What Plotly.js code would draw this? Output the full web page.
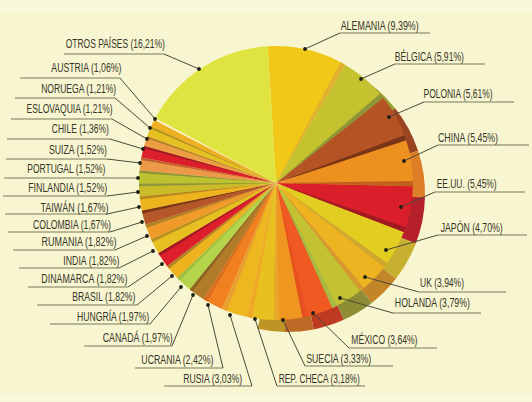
<!DOCTYPE html>
<html><head><meta charset="utf-8">
<script src="https://cdn.plot.ly/plotly-3.0.1.min.js"></script>
<style>html,body{margin:0;padding:0;background:#F8F6D0}</style></head>
<body><div id="chart" style="width:532px;height:402px"></div>
<script>
const countries = ["ALEMANIA","BÉLGICA","POLONIA","CHINA","EE.UU.","JAPÓN","UK","HOLANDA","MÉXICO","SUECIA","REP. CHECA","RUSIA","UCRANIA","CANADÁ","HUNGRÍA","BRASIL","DINAMARCA","INDIA","RUMANIA","COLOMBIA","TAIWÁN","FINLANDIA","PORTUGAL","SUIZA","CHILE","ESLOVAQUIA","NORUEGA","AUSTRIA","OTROS PAÍSES"];
const shares = [9.39,5.91,5.61,5.45,5.45,4.70,3.94,3.79,3.64,3.33,3.18,3.03,2.42,1.97,1.97,1.82,1.82,1.82,1.82,1.67,1.67,1.52,1.52,1.52,1.36,1.21,1.21,1.06,16.21];
const shareLabels = ["9,39","5,91","5,61","5,45","5,45","4,70","3,94","3,79","3,64","3,33","3,18","3,03","2,42","1,97","1,97","1,82","1,82","1,82","1,82","1,67","1,67","1,52","1,52","1,52","1,36","1,21","1,21","1,06","16,21"];
const faceColors = ["#F2C818","#C4C22E","#B45424","#EE9020","#DA1F2B","#E2CE20","#EEB320","#C3C232","#F05A22","#EE961F","#E8C020","#EFB71F","#F08020","#B07C2A","#B4D44A","#EEB21E","#DC1F2B","#E6C020","#F09A2A","#B4582A","#EEB41E","#C9BC28","#BCC22E","#EC9A4A","#DC1F2B","#EE9E42","#E6C020","#EEB020","#E0E440"];
const NONE = "rgba(0,0,0,0)";
const rimColors = [NONE,"#9BA035","#9A4522","#DD7F26","#B5202B","#C7AF30","#C28528","#8E8D35","#BE3A22","#BC6A25","#BE9325",NONE,NONE,NONE,NONE,NONE,NONE,NONE,NONE,NONE,NONE,NONE,NONE,NONE,NONE,NONE,NONE,NONE,NONE];
const stripColors = ["#E0B030","#8E9438","#7A3416","#C0611F","#A01A22","#D0A830","#D89A30","#A8B840","#E85020","#E8A828","#F0A828","#E8A030","#D87020","#8E6422","#A0C040","#B08028","#A01A22","#B89020","#B08028","#7A3416","#B88820","#8E9438","#8E9438","#C06030","#A01A22","#B08028","#B09020","#FBF7D8","#F8F6D0"];

/* layout-only geometry, in page pixels */
const W = 532, H = 402;
const face = {cx: 276, cy: 183, r: 137};
const back = {cx: 287, cy: 194, r: 138};
const startDeg = -3.5;
const textX = [379,429,458,468,466,471,442,432,384,338,319,212,177,137,113,104,84,91,79,72,74,67,66,78,80,69,78,86,115];
const textY = [26,56,94,138,184,227,283,303,339,359,379,379,360,337,316,297,279,261,242,225,207,188,169,150,129,109,89,68,44];
const ruleA = [340,395,424,438,435,438,419,393,349,305,277,164,135,84,50,37,28,19,13,8,5,3,4,6,7,11,15,20,64];
const ruleB = [430,485,514,529,525,527,506,481,437,393,365,252,223,172,150,137,128,119,115,110,107,107,138,107,110,112,115,120,164];
const ruleY = [33,64,102,145,192,235,292,313,348,366,386,386,368,346,324,305,287,268,250,232,214,196,178,159,139,119,98,78,54];
const elbowX = [340,395,424,438,435,438,419,393,349,305,277,252,223,172,150,137,128,119,115,110,107,107,138,107,110,112,115,120,164];
const dotX = [305,361,389,404,401,386,365,340,313,283,255,230,208,193,181,172,162,153,147,142,139,138,138,140,143,147,150,155,199];
const dotY = [49,79,117,161,207,250,277,298,313,320,319,315,305,295,287,276,264,251,236,222,207,192,178,163,149,139,128,119,69];
const textW = [78,69,69,60,60,62,44,75,66,65,81,59,72,70,72,63,86,56,75,78,68,79,78,58,57,86,75,70,99];

const px = x => x / W, py = y => 1 - y / H;
const dom = g => ({x: [px(g.cx - g.r), px(g.cx + g.r)], y: [py(g.cy + g.r), py(g.cy - g.r)]});
const pieTrace = (g, colors) => ({
  type: "pie", values: shares, labels: countries, sort: false, direction: "clockwise",
  rotation: startDeg, domain: dom(g), textinfo: "none", hoverinfo: "none",
  marker: {colors: colors, line: {width: 0}}, showlegend: false
});

const shapes = [], annotations = [];
shapes.push({type: "rect", xref: "paper", yref: "paper", layer: "below", x0: 0, x1: 1, y0: py(11), y1: 1, fillcolor: "#F9F8DA", line: {width: 0}});
shapes.push({type: "rect", xref: "paper", yref: "paper", layer: "below", x0: 0, x1: 1, y0: 0, y1: py(394), fillcolor: "#F9F8DA", line: {width: 0}});
const total = shares.reduce((a, b) => a + b, 0);
let acc = 0;
shares.forEach((v, i) => {
  acc += v;
  const end = startDeg + acc / total * 360;
  const wid = Math.min(2.2, v / total * 360 * 0.2);
  const pt = (deg, r) => {
    const a = deg * Math.PI / 180;
    return px(face.cx + r * Math.sin(a)) + " " + py(face.cy - r * Math.cos(a));
  };
  if (i < shares.length - 1) {
    shapes.push({type: "path", xref: "paper", yref: "paper", layer: "above", line: {width: 0},
      fillcolor: stripColors[i],
      path: "M " + pt(end, 4) + " L " + pt(end - wid, face.r) + " L " + pt(end, face.r) + " Z"});
  }
});
countries.forEach((c, i) => {
  shapes.push({type: "line", xref: "paper", yref: "paper", x0: px(ruleA[i]), x1: px(ruleB[i]), y0: py(ruleY[i]), y1: py(ruleY[i]), line: {color: "#77775A", width: 1.1}});
  shapes.push({type: "line", xref: "paper", yref: "paper", x0: px(elbowX[i]), x1: px(dotX[i]), y0: py(ruleY[i]), y1: py(dotY[i]), line: {color: "#4A4A38", width: 1}});
  const d = 1.9;
  shapes.push({type: "circle", xref: "paper", yref: "paper", x0: px(dotX[i] - d), x1: px(dotX[i] + d), y0: py(dotY[i] + d), y1: py(dotY[i] - d), fillcolor: "#1E1E14", line: {width: 0}});
  annotations.push({xref: "paper", yref: "paper", x: px(textX[i]), y: py(textY[i]), xanchor: "center", yanchor: "middle",
    showarrow: false, text: c + " (" + shareLabels[i] + "%)",
    font: {family: "'Liberation Sans',sans-serif", size: 12, color: "#35352A"}});
});

Plotly.newPlot("chart", [pieTrace(back, rimColors), pieTrace(face, faceColors)], {
  width: W, height: H, margin: {l: 0, r: 0, t: 0, b: 0},
  paper_bgcolor: "#F8F6D0", plot_bgcolor: "#F8F6D0", showlegend: false,
  shapes: shapes, annotations: annotations
}, {displayModeBar: false, staticPlot: true}).then(gd => {
  /* the reference face is condensed: narrow each label to its measured width */
  const nodes = gd.querySelectorAll(".annotation-text");
  nodes.forEach((n, i) => {
    n.setAttribute("textLength", textW[i]);
    n.setAttribute("lengthAdjust", "spacingAndGlyphs");
  });
});
</script></body></html>
